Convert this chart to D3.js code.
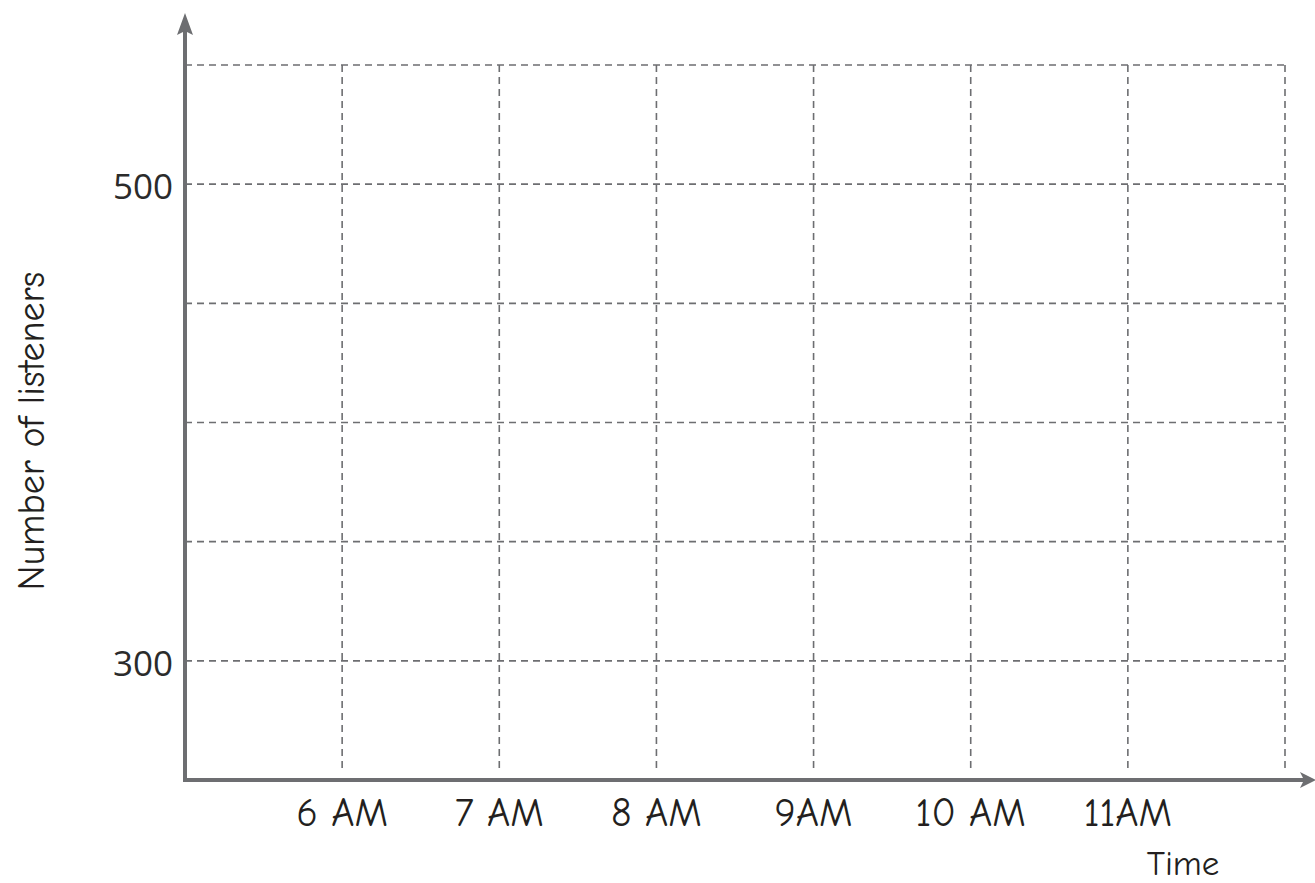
<!DOCTYPE html>
<html>
<head>
<meta charset="utf-8">
<script src="https://cdn.jsdelivr.net/npm/d3@7"></script>
<style>
  body { margin: 0; background: #fff; }
  text { font-family: "Comic Sans MS", "Comic Neue", "DejaVu Sans", sans-serif; fill: #231f20; }
  text.ylab { font-family: "Open Sans", "Noto Sans", sans-serif; fill: #2b2b2b; }
</style>
</head>
<body>
<div class="chart-div"></div>
<script>
// slots along time axis, 0 = origin
const timeLabels = ["6 AM", "7 AM", "8 AM", "9AM", "10 AM", "11AM"]
const timeSlots = [1, 2, 3, 4, 5, 6]
const gridX = [1, 2, 3, 4, 5, 6, 7]
const gridY = [300, 350, 400, 450, 500, 550]
const yTicks = [300, 500]

const width = 1315, height = 883
const axisColor = "#6d6e71"

let svg = d3.select(".chart-div").append("svg")
    .attr("width", width)
    .attr("height", height)

let x = d3.scaleLinear()
    .domain([0, 7])
    .range([185, 1285])

let y = d3.scaleLinear()
    .domain([250, 550])
    .range([780, 65])

// dashed grid
svg.selectAll("line.hgrid")
    .data(gridY)
    .enter().append("line")
    .attr("class", "hgrid")
    .attr("x1", x(0))
    .attr("x2", x(7))
    .attr("y1", d => y(d))
    .attr("y2", d => y(d))
    .attr("stroke", axisColor)
    .attr("stroke-width", 1.6)
    .attr("stroke-dasharray", "7,5")

svg.selectAll("line.vgrid")
    .data(gridX)
    .enter().append("line")
    .attr("class", "vgrid")
    .attr("x1", d => x(d))
    .attr("x2", d => x(d))
    .attr("y1", y(550))
    .attr("y2", y(254))
    .attr("stroke", axisColor)
    .attr("stroke-width", 1.6)
    .attr("stroke-dasharray", "7,5")

// axes with arrows
svg.append("line")
    .attr("x1", x(0))
    .attr("x2", 1306)
    .attr("y1", y(250))
    .attr("y2", y(250))
    .attr("stroke", axisColor)
    .attr("stroke-width", 4)

svg.append("line")
    .attr("x1", x(0))
    .attr("x2", x(0))
    .attr("y1", y(250) + 2)
    .attr("y2", 24)
    .attr("stroke", axisColor)
    .attr("stroke-width", 4)

svg.append("path")
    .attr("d", `M1316,${y(250)} L1300,${y(250) - 8} L1304,${y(250)} L1300,${y(250) + 8} Z`)
    .attr("fill", axisColor)

svg.append("path")
    .attr("d", `M${x(0)},13 L${x(0) - 8},35 L${x(0)},31 L${x(0) + 8},35 Z`)
    .attr("fill", axisColor)

// tick labels
svg.selectAll("text.xlab")
    .data(timeLabels)
    .enter().append("text")
    .attr("class", "xlab")
    .attr("x", (d, i) => x(timeSlots[i]))
    .attr("y", 826)
    .attr("text-anchor", "middle")
    .style("font-size", "40px")
    .text(d => d)

svg.selectAll("text.ylab")
    .data(yTicks)
    .enter().append("text")
    .attr("class", "ylab")
    .attr("x", 173)
    .attr("y", d => y(d) + 15)
    .attr("text-anchor", "end")
    .style("font-size", "35px")
    .text(d => d)

// axis titles
svg.append("text")
    .attr("x", 1183)
    .attr("y", 875)
    .attr("text-anchor", "middle")
    .style("font-size", "35px")
    .text("Time")

svg.append("text")
    .attr("transform", "translate(44,431) rotate(-90)")
    .attr("text-anchor", "middle")
    .style("font-size", "38px")
    .text("Number of listeners")
</script>
</body>
</html>
